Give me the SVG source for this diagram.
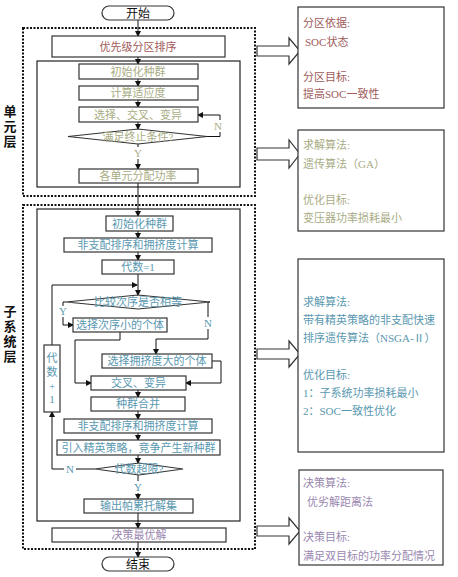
<svg xmlns="http://www.w3.org/2000/svg" width="458" height="577" viewBox="0 0 458 577">
<defs>
<marker id="ah" markerWidth="6" markerHeight="6" refX="5" refY="3" orient="auto" markerUnits="userSpaceOnUse">
<path d="M0,0 L6,3 L0,6 Z" fill="#111"/>
</marker>
<style>
.t{font-family:"Liberation Serif","Noto Sans CJK SC",serif;font-size:11px;dominant-baseline:central;text-anchor:middle}
.tl{font-family:"Liberation Serif","Noto Sans CJK SC",serif;font-size:11px;dominant-baseline:central}
.box{fill:#fff;stroke:#333;stroke-width:1.2}
.frame{fill:none;stroke:#222;stroke-width:1.2}
.dot{fill:none;stroke:#111;stroke-width:2;stroke-dasharray:2,1.5}
.c{fill:none;stroke:#111;stroke-width:1}
.ca{fill:none;stroke:#111;stroke-width:1;marker-end:url(#ah)}
.red{fill:#a05a5a}
.grn{fill:#a8ac84}
.blu{fill:#5a98b0}
.pur{fill:#9a88b0}
.blk{fill:#111}
.lay{font-family:"Noto Sans CJK SC",sans-serif;font-size:13px;font-weight:bold;fill:#111;writing-mode:vertical-rl;letter-spacing:2px}
.barr{fill:#fff;stroke:#333;stroke-width:1.2}
</style>
</defs>
<rect width="458" height="577" fill="#fff"/>

<g id="frames">
<rect class="dot" x="23" y="28" width="232" height="168"/>
<rect class="dot" x="23" y="205" width="232" height="344"/>
<rect class="frame" x="37" y="61" width="203" height="126"/>
<rect class="frame" x="37" y="209" width="203" height="312"/>
</g>

<g id="layer-labels">
<text class="lay" x="10" y="105">单元层</text>
<text class="lay" x="10" y="305">子系统层</text>
</g>

<g id="connectors">
<line class="ca" x1="138" y1="20" x2="138" y2="36"/>
<line class="ca" x1="138" y1="57" x2="138" y2="64"/>
<line class="ca" x1="138" y1="79" x2="138" y2="86"/>
<line class="ca" x1="138" y1="100" x2="138" y2="107"/>
<line class="ca" x1="138" y1="122" x2="138" y2="129"/>
<polyline class="ca" points="207,136.5 220,136.5 220,115 198,115"/>
<line class="ca" x1="138" y1="144" x2="138" y2="169"/>
<line class="ca" x1="138" y1="183" x2="138" y2="216"/>
<line class="ca" x1="138" y1="231" x2="138" y2="238"/>
<line class="ca" x1="138" y1="252" x2="138" y2="260"/>
<line class="ca" x1="138" y1="274" x2="138" y2="295"/>
<polyline class="ca" points="52,345 52,285 137,285"/>
<polyline class="ca" points="66,302 63,302 63,325 73,325"/>
<polyline class="ca" points="210,302 208,302 208,339 156,339 156,354"/>
<polyline class="ca" points="120,332 120,340 75,340 75,383 91,383"/>
<polyline class="ca" points="212,361 221,361 221,383 186,383"/>
<line class="ca" x1="138" y1="390" x2="138" y2="397"/>
<line class="ca" x1="138" y1="411" x2="138" y2="419"/>
<line class="ca" x1="138" y1="433" x2="138" y2="440"/>
<line class="ca" x1="138" y1="455" x2="138" y2="463"/>
<polyline class="ca" points="95,469 52,469 52,412"/>
<line class="ca" x1="138" y1="475" x2="138" y2="499"/>
<line class="ca" x1="138" y1="513" x2="138" y2="528"/>
<line class="ca" x1="138" y1="542" x2="138" y2="557"/>
<rect x="212" y="120" width="12" height="12" fill="#fff"/>
<text class="t grn" x="218" y="126">N</text>
<rect x="132" y="147" width="12" height="12" fill="#fff"/>
<text class="t grn" x="138" y="153">Y</text>
<rect x="57" y="306" width="12" height="11" fill="#fff"/>
<text class="t blu" x="63" y="311">Y</text>
<rect x="202" y="317" width="12" height="12" fill="#fff"/>
<text class="t blu" x="208" y="323">N</text>
<rect x="64" y="463" width="12" height="12" fill="#fff"/>
<text class="t blu" x="70" y="469">N</text>
<rect x="132" y="481" width="12" height="12" fill="#fff"/>
<text class="t blu" x="138" y="487">Y</text>
</g>

<g id="start"><rect class="box" x="102" y="6" width="72" height="14" rx="7"/><text class="t blk" x="138" y="13.5" style="font-size:12px">开始</text></g>
<g id="sort"><rect class="box" x="52" y="36" width="173" height="21"/><text class="t red" x="138" y="46.5">优先级分区排序</text></g>
<g id="init1"><rect class="box" x="79" y="64" width="119" height="15"/><text class="t grn" x="138" y="71.5">初始化种群</text></g>
<g id="fit"><rect class="box" x="79" y="86" width="119" height="14"/><text class="t grn" x="138" y="93">计算适应度</text></g>
<g id="ga"><rect class="box" x="79" y="107" width="119" height="15"/><text class="t grn" x="138" y="114.5">选择、交叉、变异</text></g>
<g id="stop"><polygon class="box" points="68,136.5 138,129 207,136.5 138,144"/><text class="t grn" x="138" y="136.5">满足终止条件?</text></g>
<g id="alloc"><rect class="box" x="79" y="169" width="119" height="14"/><text class="t grn" x="138" y="176">各单元分配功率</text></g>

<g id="init2"><rect class="box" x="106" y="216" width="67" height="15"/><text class="t blu" x="139.5" y="223.5">初始化种群</text></g>
<g id="nds1"><rect class="box" x="64" y="238" width="148" height="14"/><text class="t blu" x="138" y="245">非支配排序和拥挤度计算</text></g>
<g id="gen1"><rect class="box" x="102" y="260" width="72" height="14"/><text class="t blu" x="138" y="267">代数=1</text></g>
<g id="cmp"><polygon class="box" points="66,302 138,295 210,302 138,309"/><text class="t blu" x="138" y="302">比较次序是否相等</text></g>
<g id="selrank"><rect class="box" x="73" y="318" width="94" height="14"/><text class="t blu" x="120" y="325">选择次序小的个体</text></g>
<g id="selcrowd"><rect class="box" x="102" y="354" width="110" height="14"/><text class="t blu" x="157" y="361">选择拥挤度大的个体</text></g>
<g id="cross"><rect class="box" x="91" y="376" width="95" height="14"/><text class="t blu" x="138.5" y="383">交叉、变异</text></g>
<g id="merge"><rect class="box" x="91" y="397" width="94" height="14"/><text class="t blu" x="138" y="404">种群合并</text></g>
<g id="nds2"><rect class="box" x="64" y="419" width="148" height="14"/><text class="t blu" x="138" y="426">非支配排序和拥挤度计算</text></g>
<g id="elite"><rect class="box" x="57" y="440" width="163" height="15"/><text class="t blu" x="138.5" y="447.5">引入精英策略，竞争产生新种群</text></g>
<g id="limit"><polygon class="box" points="95,469 139,463 183,469 139,475"/><text class="t blu" x="139" y="469">代数超限?</text></g>
<g id="geninc"><rect class="box" x="44" y="345" width="16" height="67"/>
<text class="t blu" x="52" y="358">代</text><text class="t blu" x="52" y="372">数</text><text class="t blu" x="52" y="386">+</text><text class="t blu" x="52" y="399">1</text></g>
<g id="pareto"><rect class="box" x="84" y="499" width="109" height="14"/><text class="t blu" x="138.5" y="506">输出帕累托解集</text></g>
<g id="best"><rect class="box" x="52" y="528" width="174" height="14"/><text class="t pur" x="139" y="535">决策最优解</text></g>
<g id="end"><rect class="box" x="102" y="557" width="72" height="14" rx="7"/><text class="t blk" x="138" y="564.5" style="font-size:12px">结束</text></g>

<g id="arrows-right">
<polygon class="barr" points="257,46 289,46 289,38 300,51 289,64 289,56 257,56"/>
<polygon class="barr" points="257,148 289,148 289,140 300,154 289,168 289,160 257,160"/>
<polygon class="barr" points="257,349 289,349 289,341 300,354 289,367 289,359 257,359"/>
<polygon class="barr" points="257,526 289,526 289,518 300,531 289,544 289,536 257,536"/>
</g>

<g id="note1"><rect class="box" x="298" y="7" width="146" height="101"/>
<text class="tl red" x="303" y="23">分区依据:</text>
<text class="tl red" x="305" y="42">SOC状态</text>
<text class="tl red" x="303" y="77">分区目标:</text>
<text class="tl red" x="303" y="94">提高SOC一致性</text></g>
<g id="note2"><rect class="box" x="298" y="130" width="146" height="101"/>
<text class="tl grn" x="303" y="145">求解算法:</text>
<text class="tl grn" x="303" y="164">遗传算法（GA）</text>
<text class="tl grn" x="303" y="200">优化目标:</text>
<text class="tl grn" x="303" y="218">变压器功率损耗最小</text></g>
<g id="note3"><rect class="box" x="298" y="259" width="146" height="193"/>
<text class="tl blu" x="303" y="302">求解算法:</text>
<text class="tl blu" x="303" y="320">带有精英策略的非支配快速</text>
<text class="tl blu" x="303" y="338">排序遗传算法（NSGA-Ⅱ）</text>
<text class="tl blu" x="303" y="375">优化目标:</text>
<text class="tl blu" x="303" y="393">1：子系统功率损耗最小</text>
<text class="tl blu" x="303" y="411">2：SOC一致性优化</text></g>
<g id="note4"><rect class="box" x="299" y="470" width="144" height="95"/>
<text class="tl pur" x="303" y="483">决策算法:</text>
<text class="tl pur" x="307" y="502">优劣解距离法</text>
<text class="tl pur" x="303" y="537">决策目标:</text>
<text class="tl pur" x="303" y="556">满足双目标的功率分配情况</text></g>
</svg>
